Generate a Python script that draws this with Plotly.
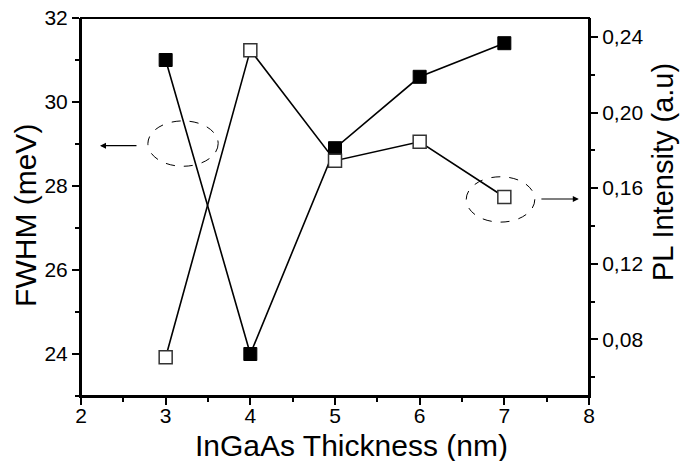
import plotly.graph_objects as go

thickness = [3, 4, 5, 6, 7]
fwhm = [31.0, 24.0, 28.9, 30.6, 31.4]
pl_intensity = [0.0705, 0.233, 0.1745, 0.1845, 0.1553]

left_ticks = [24, 26, 28, 30, 32]
right_ticks = [0.08, 0.12, 0.16, 0.20, 0.24]
right_labels = ["0,08", "0,12", "0,16", "0,20", "0,24"]
x_ticks = [2, 3, 4, 5, 6, 7, 8]

FONT = "Arial, Liberation Sans, sans-serif"

fig = go.Figure()
fig.add_trace(go.Scatter(
    x=thickness, y=fwhm, mode="lines+markers",
    line=dict(color="black", width=1.6),
    marker=dict(symbol="square", size=13, color="black", line=dict(color="black", width=1)),
    showlegend=False, xaxis="x", yaxis="y"))
fig.add_trace(go.Scatter(
    x=thickness, y=pl_intensity, mode="lines+markers",
    line=dict(color="black", width=1.6),
    marker=dict(symbol="square", size=13, color="white", line=dict(color="#333333", width=1.5)),
    showlegend=False, xaxis="x", yaxis="y2"))

axis_common = dict(showline=True, linecolor="black", linewidth=2, showgrid=False,
                   zeroline=False, tickcolor="black", tickwidth=2, layer="above traces",
                   automargin=False)

fig.update_layout(
    width=691, height=461,
    margin=dict(l=81, r=102, t=18, b=65),
    plot_bgcolor="white", paper_bgcolor="white",
    font=dict(family=FONT, color="black", size=21),
    xaxis=dict(range=[2, 8], tickvals=x_ticks, ticks="outside", ticklen=7,
               ticklabelstandoff=-7,
               minor=dict(ticks="outside", ticklen=4, dtick=0.5, tick0=2, tickcolor="black", tickwidth=2),
               tickfont=dict(size=21), **axis_common),
    xaxis2=dict(range=[2, 8], overlaying="x", side="top", anchor="y", tickvals=x_ticks,
                ticks="inside", ticklen=7, showticklabels=False,
                minor=dict(ticks="inside", ticklen=4, dtick=0.5, tick0=2, tickcolor="black", tickwidth=2),
                **axis_common),
    yaxis=dict(range=[23, 32], tickvals=left_ticks, ticks="outside", ticklen=7,
               minor=dict(ticks="outside", ticklen=4, dtick=1, tick0=23, tickcolor="black", tickwidth=2),
               tickfont=dict(size=21), **axis_common),
    yaxis2=dict(range=[0.05, 0.25], overlaying="y", side="right", anchor="x",
                tickvals=right_ticks, ticktext=right_labels, ticks="outside", ticklen=7,
                minor=dict(ticks="outside", ticklen=4, dtick=0.02, tick0=0.06, tickcolor="black", tickwidth=2),
                tickfont=dict(size=21), **axis_common),
)

# axis titles
fig.add_annotation(text="InGaAs Thickness (nm)", xref="paper", yref="paper", x=0.5315, y=-0.132,
                   showarrow=False, font=dict(size=30), xanchor="center", yanchor="middle")
fig.add_annotation(text="FWHM (meV)", xref="paper", yref="paper", x=-0.1083, y=0.479,
                   showarrow=False, font=dict(size=30), textangle=-90, xanchor="center", yanchor="middle")
fig.add_annotation(text="PL Intensity (a.u)", xref="paper", yref="paper", x=1.1457, y=0.5926,
                   showarrow=False, font=dict(size=29), textangle=-90, xanchor="center", yanchor="middle")

# frame box
fig.add_shape(type="rect", xref="x domain", yref="y domain", x0=0, x1=1, y0=0, y1=1,
              line=dict(color="black", width=2), layer="above")

# dashed ellipses marking series
fig.add_shape(type="circle", xref="x", yref="y", x0=2.79, x1=3.62, y0=28.47, y1=29.55,
              line=dict(color="black", width=1, dash="dash"))
fig.add_shape(type="circle", xref="x", yref="y", x0=6.55, x1=7.36, y0=27.14, y1=28.22,
              line=dict(color="black", width=1, dash="dash"))

# arrows
fig.add_annotation(x=2.224, y=28.96, ax=2.673, ay=28.96, xref="x", yref="y", axref="x", ayref="y",
                   text="", showarrow=True, arrowhead=2, arrowsize=1, arrowwidth=1.2, arrowcolor="black")
fig.add_annotation(x=7.88, y=27.69, ax=7.42, ay=27.69, xref="x", yref="y", axref="x", ayref="y",
                   text="", showarrow=True, arrowhead=2, arrowsize=1, arrowwidth=1.2, arrowcolor="black")

fig.write_html("out.html")
